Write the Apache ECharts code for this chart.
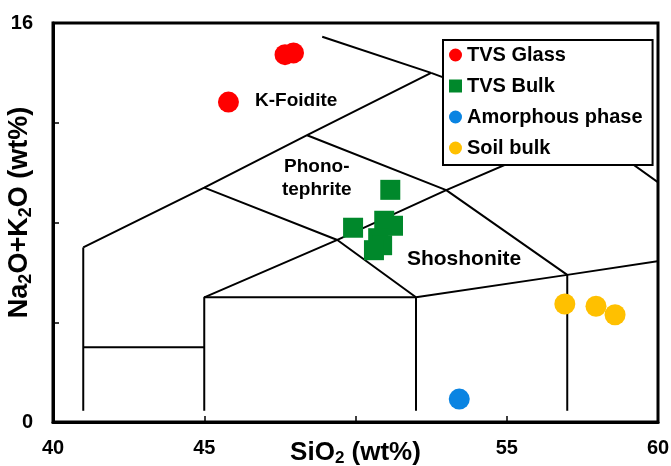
<!DOCTYPE html>
<html>
<head>
<meta charset="utf-8">
<script src="https://cdn.jsdelivr.net/npm/echarts@6/dist/echarts.min.js"></script>
<style>
  html, body { margin: 0; padding: 0; background: #fff; }
  #chart { width: 671px; height: 466px; }
</style>
</head>
<body>
<div id="chart"></div>
<script>
// Sample compositions: [SiO2 wt%, Na2O+K2O wt%]
const tvsGlass = [[47.67, 14.73], [47.95, 14.80], [45.80, 12.83]];
const tvsBulk = [[51.15, 9.31], [49.92, 7.79], [50.95, 8.07], [51.24, 7.87], [50.75, 7.37], [50.88, 7.09], [50.61, 6.89]];
const amorphousPhase = [[53.43, 0.92]];
const soilBulk = [[56.92, 4.73], [57.95, 4.64], [58.58, 4.30]];

// Axis tick values that carry a printed label
const xTickLabels = [40, 45, 55, 60];
const yTickLabels = [0, 16];

// Total-alkali-silica field boundaries (polylines in data units)
const tasBoundaries = [
  [[41, 0.45], [41, 7]],
  [[41, 3], [45, 3]],
  [[45, 0.45], [45, 5], [52, 5]],
  [[52, 0.45], [52, 5], [57, 5.9], [63, 7]],
  [[57, 0.45], [57, 5.9]],
  [[41, 7], [45, 9.4], [48.4, 11.5], [52.5, 14]],
  [[52.5, 14], [48.9, 15.45]],
  [[52.5, 14], [57.6, 11.7], [63, 7]],
  [[45, 9.4], [49.4, 7.3], [52, 5]],
  [[45, 5], [49.4, 7.3], [53, 9.3], [57.6, 11.7]],
  [[48.4, 11.5], [53, 9.3], [57, 5.9]]
];

// Field names and where they sit in data units
const fieldNames = ['K-Foidite', 'Phono-\ntephrite', 'Shoshonite'];
const fieldAnchors = [[48.04, 12.9], [48.72, 9.79], [53.59, 6.51]];

const FONT = '"Liberation Sans", Arial, sans-serif';
const fieldFontSizes = [19, 19, 21];

const chart = echarts.init(document.getElementById('chart'), null, { renderer: 'canvas' });

const boundarySeries = tasBoundaries.map((pts, i) => ({
  type: 'line',
  name: 'boundary' + i,
  data: pts,
  symbol: 'none',
  silent: true,
  clip: true,
  z: 1,
  lineStyle: { color: '#000', width: 2 },
  emphasis: { disabled: true }
}));

const fieldSeries = {
  type: 'scatter',
  name: 'fields',
  silent: true,
  symbolSize: 0,
  z: 3,
  itemStyle: { opacity: 1 },
  data: fieldNames.map((n, i) => ({
    name: n,
    value: fieldAnchors[i],
    label: {
      color: '#000',
      fontSize: fieldFontSizes[i],
      lineHeight: fieldFontSizes[i] + 4
    }
  })),
  label: {
    show: true,
    position: 'inside',
    formatter: p => p.name,
    color: '#000',
    opacity: 1,
    fontWeight: 'bold',
    fontFamily: FONT,
    align: 'center',
    verticalAlign: 'middle'
  }
};

function pointSeries(name, data, color, symbol, size) {
  return {
    type: 'scatter',
    name: name,
    data: data,
    symbol: symbol,
    symbolSize: size,
    z: 4,
    itemStyle: { color: color, opacity: 1 }
  };
}

const axisFont = { color: '#000', fontWeight: 'bold', fontFamily: FONT, fontSize: 20 };

const option = {
  animation: false,
  backgroundColor: '#fff',
  grid: {
    left: 53, right: 13, top: 23, bottom: 44,
    containLabel: false,
    outerBoundsMode: 'none',
    show: true, borderColor: '#000', borderWidth: 3, backgroundColor: 'transparent'
  },
  xAxis: {
    type: 'value', min: 40, max: 60, interval: 5,
    axisLine: { show: true, onZero: false, lineStyle: { color: '#000', width: 3 } },
    axisTick: { show: true, inside: true, length: 6, lineStyle: { color: '#000', width: 1.5 } },
    axisLabel: Object.assign({ margin: 16, formatter: v => xTickLabels.includes(v) ? String(v) : '' }, axisFont),
    splitLine: { show: false },
    name: '{m|SiO}{s|2}{m| (wt%)}',
    nameLocation: 'middle',
    nameGap: 17,
    nameMoveOverlap: false,
    nameTextStyle: {
      rich: {
        m: { fontSize: 26, fontWeight: 'bold', fontFamily: FONT, color: '#000', lineHeight: 28 },
        s: { fontSize: 17, fontWeight: 'bold', fontFamily: FONT, color: '#000', lineHeight: 17, verticalAlign: 'bottom' }
      }
    }
  },
  yAxis: {
    type: 'value', min: 0, max: 16, interval: 4,
    axisLine: { show: true, onZero: false, lineStyle: { color: '#000', width: 3 } },
    axisTick: { show: true, inside: true, length: 6, lineStyle: { color: '#000', width: 1.5 } },
    axisLabel: Object.assign({ margin: 20, formatter: v => yTickLabels.includes(v) ? String(v) : '' }, axisFont),
    splitLine: { show: false },
    name: '{m|Na}{s|2}{m|O+K}{s|2}{m|O (wt%)}',
    nameLocation: 'middle',
    nameGap: 18,
    nameRotate: 90,
    nameMoveOverlap: false,
    nameTextStyle: {
      padding: [0, 0, 0, 20],
      rich: {
        m: { fontSize: 27, fontWeight: 'bold', fontFamily: FONT, color: '#000', lineHeight: 30 },
        s: { fontSize: 18, fontWeight: 'bold', fontFamily: FONT, color: '#000', lineHeight: 18, verticalAlign: 'bottom' }
      }
    }
  },
  legend: {
    orient: 'vertical',
    left: 443,
    top: 40,
    padding: [5, 10, 7, 6],
    itemGap: 11,
    itemWidth: 13,
    itemHeight: 13,
    backgroundColor: '#fff',
    borderColor: '#000',
    borderWidth: 2,
    borderRadius: 0,
    z: 10,
    selectedMode: false,
    textStyle: { color: '#000', fontWeight: 'bold', fontFamily: FONT, fontSize: 20, lineHeight: 20 },
    data: [
      { name: 'TVS Glass', icon: 'circle' },
      { name: 'TVS Bulk', icon: 'rect' },
      { name: 'Amorphous phase', icon: 'circle' },
      { name: 'Soil bulk', icon: 'circle' }
    ]
  },
  series: boundarySeries.concat([
    fieldSeries,
    pointSeries('TVS Glass', tvsGlass, '#FF0000', 'circle', 21),
    pointSeries('TVS Bulk', tvsBulk, '#00882B', 'rect', 20),
    pointSeries('Amorphous phase', amorphousPhase, '#0A84E2', 'circle', 21),
    pointSeries('Soil bulk', soilBulk, '#FFC000', 'circle', 21)
  ])
};

chart.setOption(option);
</script>
</body>
</html>
